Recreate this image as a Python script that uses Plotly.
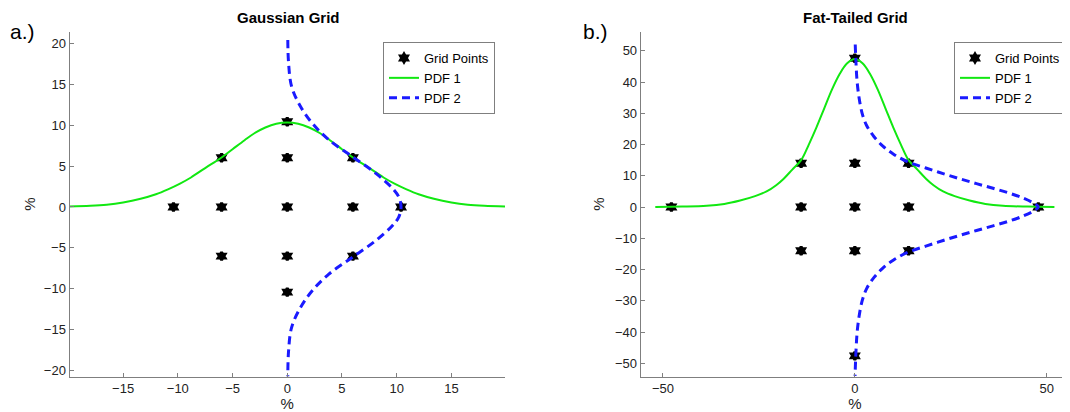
import plotly.graph_objects as go

# ---------------- data: panel a (Gaussian grid) ----------------
ga_grid_x = [0, -6, 0, 6, -10.4, -6, 0, 6, 10.4, -6, 0, 6, 0]
ga_grid_y = [10.4, 6, 6, 6, 0, 0, 0, 0, 0, -6, -6, -6, -10.4]

ga_pdf1_x = [-19.9, -18, -16.5, -15, -13.4, -12, -10.9, -9.8, -8.8, -7.5, -6.1, -5, -3.9, -3, -2, -1, 0,
             1, 2, 3, 3.9, 5, 6.1, 7.5, 8.8, 9.8, 10.9, 12, 13.4, 15, 16.5, 18, 19.9]
ga_pdf1_y = [0.05, 0.14, 0.28, 0.55, 1.0, 1.55, 2.15, 2.85, 3.6, 4.75, 5.95, 7.05, 8.15, 9.0, 9.7, 10.15, 10.3,
             10.15, 9.7, 9.0, 8.15, 7.05, 5.95, 4.75, 3.6, 2.85, 2.15, 1.55, 1.0, 0.55, 0.28, 0.14, 0.05]

ga_pdf2_y = [20.4, 17.6, 14.7, 12.3, 10.2, 8.2, 6.1, 4.1, 2.3, 1.2, 0,
             -1.2, -2.3, -4.1, -6.1, -8.2, -10.2, -12.3, -14.7, -17.6, -20.7]
ga_pdf2_x = [0.05, 0.12, 0.4, 1.2, 2.3, 3.8, 6.0, 8.1, 9.6, 10.2, 10.4,
             10.2, 9.6, 8.1, 6.0, 3.8, 2.3, 1.2, 0.4, 0.12, 0.05]

# ---------------- data: panel b (fat-tailed grid) ----------------
fb_grid_x = [0, -14, 0, 14, -47.8, -14, 0, 14, 47.8, -14, 0, 14, 0]
fb_grid_y = [47.6, 14, 14, 14, 0, 0, 0, 0, 0, -14, -14, -14, -47.6]

fb_pdf1_x = [-52, -45, -38.6, -34, -29.9, -26, -23, -20.5, -18.6, -16.3, -14, -12, -10, -8, -6, -4, -2, 0,
             2, 4, 6, 8, 10, 12, 14, 16.3, 18.6, 20.5, 23, 26, 29.9, 34, 38.6, 45, 52]
fb_pdf1_y = [0.05, 0.15, 0.4, 1.0, 2.1, 3.5, 5.0, 7.0, 9.0, 12.0, 15.0, 20.0, 25.5, 31.5, 37.5, 42.5, 46.0, 47.4,
             46.0, 42.5, 37.5, 31.5, 25.5, 20.0, 15.0, 12.0, 9.0, 7.0, 5.0, 3.5, 2.1, 1.0, 0.4, 0.15, 0.05]

fb_pdf2_y = [52, 46, 40, 35, 30, 26, 22.5, 19.5, 17, 14.5, 12.5, 10.7, 9, 7.5, 6, 4.4, 2.8, 1.3, 0,
             -1.3, -2.8, -4.4, -6, -7.5, -9, -10.7, -12.5, -14.5, -17, -19.5, -22.5, -26, -30, -35, -40, -46, -54]
fb_pdf2_x = [0.1, 0.3, 0.6, 1.1, 1.9, 3.1, 5.0, 7.3, 10, 13.7, 18.5, 23, 27.5, 31.7, 36, 40.4, 44, 46.5, 47.8,
             46.5, 44, 40.4, 36, 31.7, 27.5, 23, 18.5, 13.7, 10, 7.3, 5.0, 3.1, 1.9, 1.1, 0.6, 0.3, 0.05]

a_xticks = [-15, -10, -5, 0, 5, 10, 15]
a_yticks = [-20, -15, -10, -5, 0, 5, 10, 15, 20]
b_xticks = [-50, 0, 50]
b_yticks = [-50, -40, -30, -20, -10, 0, 10, 20, 30, 40, 50]

# ---------------- figure ----------------
# the page body has an 8px margin, so the figure is sized to fit the window
OFF = 8
W, H = 1070 - OFF, 412 - OFF
GREEN = "#11e811"
BLUE = "#1a1aff"
FONT = "Liberation Sans, Arial, Helvetica, sans-serif"

fig = go.Figure()

def add_panel(gx, gy, p1x, p1y, p2x, p2y, xa, ya, legend):
    fig.add_trace(go.Scatter(x=gx, y=gy, mode="markers", name="Grid Points",
                             marker=dict(symbol="hexagram", size=6, color="black",
                                         line=dict(width=3, color="black")),
                             xaxis=xa, yaxis=ya, legend=legend))
    fig.add_trace(go.Scatter(x=p1x, y=p1y, mode="lines", name="PDF 1",
                             line=dict(color=GREEN, width=2, shape="spline"),
                             xaxis=xa, yaxis=ya, legend=legend))
    fig.add_trace(go.Scatter(x=p2x, y=p2y, mode="lines", name="PDF 2",
                             line=dict(color=BLUE, width=3, dash="8px,5px", shape="spline"),
                             xaxis=xa, yaxis=ya, legend=legend))

add_panel(ga_grid_x, ga_grid_y, ga_pdf1_x, ga_pdf1_y, ga_pdf2_x, ga_pdf2_y, "x", "y", "legend")
add_panel(fb_grid_x, fb_grid_y, fb_pdf1_x, fb_pdf1_y, fb_pdf2_x, fb_pdf2_y, "x2", "y2", "legend2")

def px(v):
    return (v - OFF) / W

def py(v):
    return 1 - (v - OFF) / H

axis_common = dict(showline=True, linecolor="#7f7f7f", linewidth=1, ticks="inside",
                   ticklen=4, tickcolor="#7f7f7f", showgrid=False, zeroline=False,
                   automargin=False,
                   tickfont=dict(family=FONT, size=13, color="#222222"),
                   title_font=dict(family=FONT, size=15, color="#222222"))

ydom = [py(376.5), py(31.7)]

legend_common = dict(bgcolor="white", bordercolor="#7f7f7f", borderwidth=1,
                     font=dict(family=FONT, size=13, color="black"),
                     xanchor="left", yanchor="top", tracegroupgap=0,
                     itemwidth=30)

fig.update_layout(
    width=W, height=H,
    margin=dict(l=0, r=0, t=0, b=0, autoexpand=False),
    paper_bgcolor="white", plot_bgcolor="white",
    showlegend=True,
    xaxis=dict(domain=[px(69.5), px(505)], range=[-19.9, 19.9], tickvals=a_xticks,
               anchor="y", title=dict(text="%", standoff=0), **axis_common),
    yaxis=dict(domain=ydom, range=[-20.7, 21.4], tickvals=a_yticks,
               anchor="x", title=dict(text="%", standoff=4), **axis_common),
    xaxis2=dict(domain=[px(640.7), px(1069)], range=[-55.8, 55.8], tickvals=b_xticks,
                anchor="y2", title=dict(text="%", standoff=0), **axis_common),
    yaxis2=dict(domain=ydom, range=[-54.2, 56.1], tickvals=b_yticks,
                anchor="x2", title=dict(text="%", standoff=6), **axis_common),
    legend=dict(x=px(383), y=py(42), **legend_common),
    legend2=dict(x=px(954), y=py(42), **legend_common),
    annotations=[
        dict(text="<b>Gaussian Grid</b>", x=px(288.5), y=py(17), xref="paper", yref="paper",
             showarrow=False, font=dict(family=FONT, size=15, color="black"),
             xanchor="center", yanchor="middle"),
        dict(text="<b>Fat-Tailed Grid</b>", x=px(855), y=py(17), xref="paper", yref="paper",
             showarrow=False, font=dict(family=FONT, size=15, color="black"),
             xanchor="center", yanchor="middle"),
        dict(text="a.)", x=px(8), y=py(31), xref="paper", yref="paper",
             showarrow=False, font=dict(family=FONT, size=21, color="black"),
             xanchor="left", yanchor="middle"),
        dict(text="b.)", x=px(581), y=py(31), xref="paper", yref="paper",
             showarrow=False, font=dict(family=FONT, size=21, color="black"),
             xanchor="left", yanchor="middle"),
    ],
)

fig.write_html("out.html")
